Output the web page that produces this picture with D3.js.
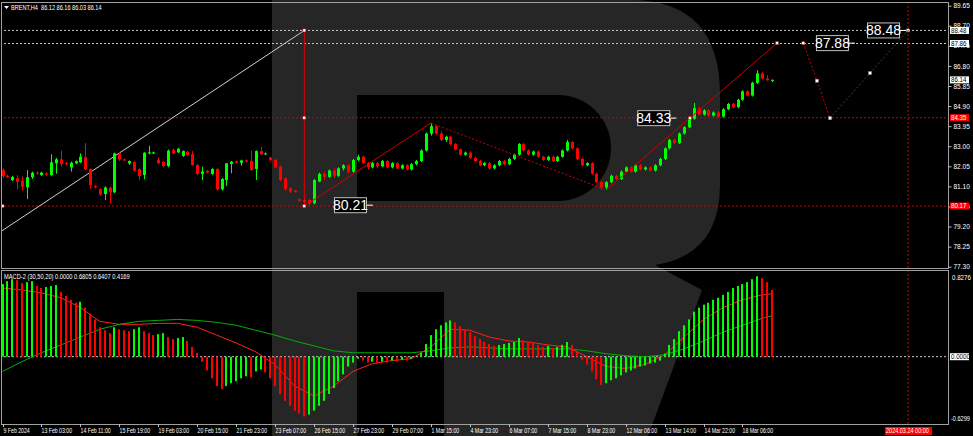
<!DOCTYPE html>
<html><head><meta charset="utf-8">
<script src="https://cdn.jsdelivr.net/npm/d3@7"></script>
<style>html,body{margin:0;padding:0;background:#000;overflow:hidden}text{font-family:"Liberation Sans",Arial,sans-serif}</style>
</head><body><svg id="c" width="973" height="436"></svg>
<script>
// ---------- DATA ----------
const opens = [81.87,81.60,81.40,81.48,81.37,81.06,81.53,81.75,81.64,81.72,81.64,82.19,82.38,82.20,82.00,82.19,82.24,82.48,81.92,81.12,
80.97,80.74,81.04,80.82,82.66,82.38,82.19,82.24,81.91,81.64,82.66,82.66,82.35,82.25,82.06,82.82,82.71,82.54,82.74,82.62,
82.11,81.69,81.83,81.69,81.92,80.96,81.40,82.16,82.29,82.22,82.33,82.31,81.92,82.77,82.62,82.47,82.35,82.03,81.48,81.01,
80.90,80.49,80.45,80.45,80.30,81.33,81.69,81.55,81.85,81.60,81.95,82.10,81.80,82.35,82.50,82.20,82.00,82.20,82.05,82.30,
82.00,82.20,81.95,82.10,81.90,82.15,82.30,82.80,83.60,83.95,83.60,83.30,83.45,83.10,82.85,82.60,82.70,82.45,82.30,82.10,
82.20,81.95,82.10,82.30,82.15,82.40,82.60,83.10,82.80,82.60,82.75,82.50,82.35,82.50,82.30,82.50,82.80,83.20,82.90,82.40,
82.10,82.20,81.70,81.30,81.05,81.30,81.60,81.45,81.80,82.00,81.80,82.10,81.90,82.00,81.85,82.10,82.40,82.90,83.30,83.15,
83.60,83.90,84.30,84.80,84.50,84.70,84.45,84.60,84.40,84.75,85.00,84.85,85.20,85.60,85.40,86.00,86.45,86.20,86.12];
const highs = [81.95,81.65,81.60,81.63,81.56,81.87,81.80,81.80,81.80,81.76,82.62,82.45,82.79,82.25,82.27,82.33,82.66,83.14,81.95,81.15,
81.00,81.10,81.08,82.70,82.72,82.42,82.33,82.30,81.95,82.72,83.02,82.75,82.48,82.30,82.85,82.90,82.92,82.80,82.78,82.77,
82.15,82.03,81.88,81.96,81.96,81.50,82.20,82.30,82.32,82.36,82.37,82.79,82.80,82.98,82.70,82.50,82.40,82.08,81.52,81.05,
80.93,80.52,80.50,80.50,81.45,81.75,81.80,81.90,81.95,82.00,82.15,82.15,82.40,82.60,82.55,82.25,82.25,82.25,82.35,82.35,
82.25,82.25,82.15,82.15,82.20,82.35,82.85,83.65,84.10,84.00,83.70,83.50,83.50,83.15,82.90,82.75,82.75,82.50,82.35,82.25,
82.25,82.15,82.35,82.35,82.45,82.65,83.15,83.15,82.85,82.80,82.80,82.55,82.55,82.55,82.55,82.85,83.30,83.25,82.95,82.45,
82.25,82.25,81.75,81.35,81.35,81.65,81.65,81.85,82.05,82.05,82.15,82.15,82.05,82.05,82.15,82.45,82.95,83.35,83.35,83.65,
83.95,84.35,85.05,84.85,84.75,84.75,84.65,84.65,84.80,85.05,85.05,85.25,85.65,85.65,86.05,86.60,86.50,86.35,86.16];
const lows = [81.50,81.50,81.35,80.97,80.90,80.50,81.45,81.65,81.60,81.60,81.60,81.70,82.03,82.10,81.80,82.15,82.20,81.87,81.00,81.00,
80.65,80.45,80.30,80.78,82.30,82.30,82.12,81.80,81.40,81.43,82.62,82.63,82.15,82.00,82.00,82.62,82.68,82.50,82.54,82.08,
81.64,81.40,81.72,81.65,80.92,80.90,81.12,81.72,82.18,82.08,82.24,81.84,81.40,82.58,82.58,82.30,81.95,81.35,80.90,80.80,
80.80,80.38,80.17,80.20,80.25,81.30,81.40,81.50,81.50,81.55,81.85,81.70,81.75,82.30,82.15,81.90,81.95,81.95,82.00,81.95,
81.95,81.90,81.90,81.85,81.85,82.10,82.25,82.75,83.50,83.55,83.25,83.20,83.05,82.80,82.55,82.55,82.40,82.25,82.05,82.05,
81.90,81.90,82.05,82.10,82.10,82.35,82.55,82.75,82.55,82.55,82.45,82.30,82.30,82.25,82.25,82.45,82.75,82.85,82.35,82.05,
82.05,81.65,81.25,80.95,80.95,81.25,81.40,81.40,81.75,81.75,81.75,81.85,81.85,81.80,81.80,82.05,82.35,82.85,83.10,83.10,
83.55,83.85,84.25,84.45,84.45,84.40,84.40,84.35,84.35,84.70,84.80,84.80,85.15,85.35,85.35,85.95,86.15,86.10,86.03];
const closes = [81.59,81.55,81.54,81.32,81.09,81.53,81.75,81.70,81.75,81.66,82.24,82.38,82.16,82.15,82.22,82.29,82.50,81.91,81.16,81.06,
80.72,81.05,80.82,82.66,82.38,82.33,82.30,81.84,81.59,82.69,82.71,82.71,82.19,82.06,82.79,82.66,82.88,82.77,82.58,82.11,
81.69,81.80,81.75,81.92,80.96,81.45,82.19,82.27,82.22,82.33,82.27,81.87,82.77,82.62,82.66,82.35,81.99,81.40,80.96,80.85,
80.83,80.42,80.37,80.30,81.40,81.69,81.55,81.85,81.60,81.95,82.10,81.80,82.35,82.50,82.20,82.00,82.20,82.05,82.30,82.00,
82.20,81.95,82.10,81.90,82.15,82.30,82.80,83.60,83.95,83.60,83.30,83.45,83.10,82.85,82.60,82.70,82.45,82.30,82.10,82.20,
81.95,82.10,82.30,82.15,82.40,82.60,83.10,82.80,82.60,82.75,82.50,82.35,82.50,82.30,82.50,82.80,83.20,82.90,82.40,82.10,
82.20,81.70,81.30,81.05,81.30,81.60,81.45,81.80,82.00,81.80,82.10,81.90,82.00,81.85,82.10,82.40,82.90,83.30,83.15,83.60,
83.90,84.30,84.80,84.50,84.70,84.45,84.60,84.40,84.75,85.00,84.85,85.20,85.60,85.40,86.00,86.45,86.20,86.12,86.14];

const macdHist = [0.74,0.77,0.79,0.78,0.75,0.76,0.77,0.72,0.70,0.71,0.72,0.73,0.66,0.62,0.58,0.55,0.56,0.50,0.44,0.38,
0.30,0.27,0.24,0.30,0.28,0.27,0.26,0.28,0.30,0.26,0.24,0.22,0.23,0.24,0.20,0.18,0.19,0.20,0.16,0.10,0.04,
-0.05,-0.14,-0.22,-0.30,-0.33,-0.30,-0.27,-0.25,-0.22,-0.20,-0.21,-0.15,-0.13,-0.16,-0.22,-0.30,-0.38,-0.45,-0.50,-0.55,-0.58,-0.61,-0.59,
-0.55,-0.50,-0.45,-0.38,-0.32,-0.25,-0.18,-0.10,-0.06,-0.02,-0.04,-0.06,-0.05,-0.07,-0.05,-0.06,-0.04,-0.05,-0.03,-0.04,-0.02,0.00,0.04,
0.13,0.22,0.28,0.32,0.35,0.37,0.35,0.31,0.28,0.25,0.21,0.18,0.15,0.13,0.11,0.12,0.13,0.14,0.15,0.19,0.17,0.15,0.14,0.12,0.10,0.11,0.09,0.10,0.12,0.15,0.12,
0.05,-0.03,-0.08,-0.15,-0.23,-0.29,-0.27,-0.24,-0.22,-0.19,-0.16,-0.14,-0.12,-0.10,-0.09,-0.07,-0.06,-0.04,
0.03,0.12,0.18,0.26,0.32,0.38,0.46,0.50,0.53,0.55,0.58,0.60,0.63,0.66,0.70,0.72,0.74,0.76,0.79,0.82,0.80,0.76,0.68];
// MACD lines read every 4th bar (plus the last bar)
const lineBars = [0,4,8,12,16,20,24,28,32,36,40,44,48,52,56,60,64,68,72,76,80,84,88,92,96,100,104,108,112,116,120,124,128,132,136,140,144,148,152,156,158];
const macdRed = [0.70,0.68,0.65,0.60,0.50,0.36,0.33,0.33,0.34,0.34,0.30,0.22,0.14,0.05,-0.08,-0.30,-0.40,-0.30,-0.15,-0.07,-0.04,-0.02,0.10,0.28,0.27,0.20,0.16,0.15,0.12,0.10,0.00,-0.10,-0.12,-0.08,0.02,0.20,0.38,0.50,0.58,0.63,0.6407];
const macdGreen = [-0.15,-0.05,0.04,0.12,0.20,0.28,0.33,0.36,0.37,0.38,0.37,0.35,0.32,0.27,0.22,0.16,0.11,0.06,0.04,0.04,0.04,0.04,0.06,0.09,0.10,0.09,0.08,0.08,0.08,0.08,0.06,0.03,0.01,0.00,0.02,0.08,0.16,0.25,0.32,0.39,0.4169];

const priceTicks = [89.65,88.70,87.75,86.80,85.85,84.90,83.95,83.00,82.05,81.10,80.15,79.20,78.25,77.30];
const timeLabels = ["9 Feb 2024","13 Feb 03:00","14 Feb 11:00","15 Feb 19:00","19 Feb 03:00","20 Feb 15:00","21 Feb 23:00","23 Feb 07:00","26 Feb 15:00","27 Feb 23:00","29 Feb 07:00","1 Mar 15:00","4 Mar 23:00","6 Mar 07:00","7 Mar 15:00","8 Mar 23:00","12 Mar 06:00","13 Mar 14:00","14 Mar 22:00","18 Mar 06:00"];
const labelBars = [0,8,16,24,32,40,48,56,64,72,80,88,96,104,112,120,128,136,144,152];
const futureBar = 186, futureLabel = "2024.03.24 00:00";

const greyLevels = [88.48, 87.86];
const redLevels = [84.35, 80.17];
const lastPrice = 86.14;
const trendLine = [[-0.5,78.94],[62,88.48]];
const measureBar = 62, measurePrices = [88.48, 84.35, 80.17];
const wave = [[62,80.17],[88,84.10],[124,80.93],[141.2,84.33],[159.1,87.88],[164.5,87.88],[167.3,86.10],[170,84.33],[178.2,86.46],[186,88.48]];
const waveLabels = [{t:"80.21",bar:76.1,p:80.21},{t:"84.33",bar:138.4,p:84.33},{t:"87.88",bar:175.1,p:87.88},{t:"88.48",bar:185.6,p:88.48}];
const header = "BRENT,H4  86.12 86.16 86.03 86.14";
const macdTitle = "MACD-2 (30,50,20) 0.0000 0.6805 0.6407 0.4169";
const macdTicks = [0.8276, -0.6299];

// ---------- DRAW ----------
const svg = d3.select('#c');
const x = d3.scaleLinear().domain([0,186]).range([2.5,908]);
const y = d3.scaleLinear().domain([77.30,89.65]).range([266.7,5.7]);
const ym = d3.scaleLinear().domain([-0.6299,0.8276]).range([418.5,275.5]);
const FS = 6.5;
const UP='#00ff00', DN='#ff0000';
const ctext=(g,xx,yy,str,sx,fill)=>g.append('text').attr('transform',`translate(${xx},${yy}) scale(${sx},1)`).attr('fill',fill||'#fff').attr('font-size',FS).attr('xml:space','preserve').text(str);

svg.append('rect').attr('width',973).attr('height',436).attr('fill','#000');
// watermark logo
svg.append('path').attr('fill','#262626').attr('fill-rule','evenodd')
  .attr('d','M272,0H630Q720,0 720,95V185Q720,255 655,265L702,290L648,436H444V292H357V436H272Z M357,95H558A53,53 0 0 1 558,201H357Z');

const defs = svg.append('defs');
defs.append('clipPath').attr('id','cm').append('rect').attr('x',1.5).attr('y',2.5).attr('width',947).attr('height',266);
defs.append('clipPath').attr('id','cb').append('rect').attr('x',1.5).attr('y',271).attr('width',947).attr('height',153);

const gm = svg.append('g').attr('clip-path','url(#cm)');
const gb = svg.append('g').attr('clip-path','url(#cb)');

// level lines
greyLevels.forEach(p=>gm.append('line').attr('x1',0).attr('x2',948).attr('y1',y(p)).attr('y2',y(p)).attr('stroke','#c8c8c8').attr('stroke-dasharray','2,2'));
redLevels.forEach(p=>gm.append('line').attr('x1',0).attr('x2',948).attr('y1',y(p)).attr('y2',y(p)).attr('stroke','#d00000').attr('stroke-dasharray','2,2'));
// future vertical
svg.append('line').attr('x1',x(futureBar)).attr('x2',x(futureBar)).attr('y1',2).attr('y2',424).attr('stroke','#d00000').attr('stroke-dasharray','2,2');

// trend line
gm.append('line').attr('x1',x(trendLine[0][0])).attr('y1',y(trendLine[0][1])).attr('x2',x(trendLine[1][0])).attr('y2',y(trendLine[1][1])).attr('stroke','#cfcfcf').attr('stroke-width',1);
// measure line
gm.append('line').attr('x1',x(measureBar)).attr('x2',x(measureBar)).attr('y1',y(measurePrices[0])).attr('y2',y(measurePrices[2])).attr('stroke','#e00000');

// candles
const idx = d3.range(closes.length);
const cg = gm.append('g');
cg.selectAll('line.w').data(idx).join('line')
  .attr('x1',i=>Math.round(x(i))+0.5).attr('x2',i=>Math.round(x(i))+0.5)
  .attr('y1',i=>y(highs[i])).attr('y2',i=>y(lows[i]))
  .attr('stroke',i=>closes[i]>=opens[i]?UP:DN);
cg.selectAll('rect.b').data(idx).join('rect')
  .attr('x',i=>Math.round(x(i))-1).attr('width',3)
  .attr('y',i=>y(Math.max(opens[i],closes[i])))
  .attr('height',i=>Math.max(1,Math.abs(y(opens[i])-y(closes[i]))))
  .attr('fill',i=>closes[i]>=opens[i]?UP:DN);

// wave forecast
const seg = (a,b,col,dash)=>{const l=gm.append('line').attr('x1',x(wave[a][0])).attr('y1',y(wave[a][1])).attr('x2',x(wave[b][0])).attr('y2',y(wave[b][1])).attr('stroke',col); if(dash) l.attr('stroke-dasharray',dash);};
seg(0,1,'#d00000'); seg(1,2,'#d00000','2,2'); seg(2,3,'#d00000'); seg(3,4,'#d00000');
seg(5,6,'#d00000','2,2'); seg(6,7,'#d00000','2,2');
seg(7,8,'#2e4a2e','2,2'); seg(8,9,'#2e4a2e','2,2');
// markers
const markers = [[0,measurePrices[2]],[measureBar,measurePrices[0]],[measureBar,measurePrices[1]],[measureBar,measurePrices[2]]];
markers.forEach(m=>gm.append('rect').attr('x',x(m[0])-1.5).attr('y',y(m[1])-1.5).attr('width',3).attr('height',3).attr('fill','#fff').attr('stroke','#d00000').attr('stroke-width',0.5));
[3,4,5,6,7,8,9].forEach(k=>gm.append('rect').attr('x',x(wave[k][0])-1.5).attr('y',y(wave[k][1])-1.5).attr('width',3).attr('height',3).attr('fill','#fff').attr('stroke',k<6?'#d00000':'#888').attr('stroke-width',0.5));

// wave labels
waveLabels.forEach(d=>{
  const ax=x(d.bar), ay=y(d.p);
  gm.append('line').attr('x1',ax-6).attr('x2',ax).attr('y1',ay).attr('y2',ay).attr('stroke','#fff');
  gm.append('rect').attr('x',ax-38.5).attr('y',ay-7.5).attr('width',32).attr('height',15).attr('fill','#000').attr('stroke','#c0c0c0');
  gm.append('text').attr('x',ax-22.5).attr('y',ay+5).attr('text-anchor','middle').attr('fill','#fff').attr('font-size',14).text(d.t);
});

// MACD
gb.append('line').attr('x1',0).attr('x2',948).attr('y1',ym(0)).attr('y2',ym(0)).attr('stroke','#c8c8c8').attr('stroke-dasharray','2,2');
const ln = d3.line().x(d=>x(d[0])).y(d=>ym(d[1]));
gb.append('path').attr('d',ln(lineBars.map((b,k)=>[b,macdRed[k]]))).attr('fill','none').attr('stroke','#ff2020');
gb.append('path').attr('d',ln(lineBars.map((b,k)=>[b,macdGreen[k]]))).attr('fill','none').attr('stroke','#00b000');
gb.selectAll('rect.h').data(macdHist).join('rect')
  .attr('x',(d,i)=>Math.round(x(i))-1).attr('width',2)
  .attr('y',d=>Math.min(ym(d),ym(0))).attr('height',d=>Math.abs(ym(d)-ym(0)))
  .attr('fill',(d,i)=>(i===0||d>=macdHist[i-1])?UP:DN);

// frames
svg.append('rect').attr('x',1.5).attr('y',2.5).attr('width',947).attr('height',266).attr('fill','none').attr('stroke','#a0a0a0');
svg.append('rect').attr('x',1.5).attr('y',270.5).attr('width',947).attr('height',154).attr('fill','none').attr('stroke','#a0a0a0');

// price axis
const ax = svg.append('g').attr('transform','translate(948.5,0)').call(d3.axisRight(y).tickValues(priceTicks).tickSize(3).tickFormat(d3.format('.2f')));
ax.select('.domain').remove();
ax.selectAll('line').attr('stroke','#c0c0c0');
ax.selectAll('text').attr('fill','#fff').attr('font-size',FS).attr('x',5).attr('font-family','Liberation Sans');

// price tags
const tag=(yy,bg,fg,txt)=>{svg.append('rect').attr('x',950).attr('y',yy-3.5).attr('width',19).attr('height',7).attr('fill',bg);
  ctext(svg,951,yy+2.3,txt,0.95,fg);};
greyLevels.forEach(p=>tag(y(p),'#fff','#000',d3.format('.2f')(p)));
tag(y(lastPrice),'#fff','#000',d3.format('.2f')(lastPrice));
redLevels.forEach(p=>tag(y(p),'#ff0000','#fff',d3.format('.2f')(p)));
// macd axis
ctext(svg,952,ym(macdTicks[0])+4,macdTicks[0].toFixed(4),0.95);
ctext(svg,951,ym(macdTicks[1])+2,macdTicks[1].toFixed(4),0.86);
tag(ym(0),'#fff','#000','0.0000');

// time axis
labelBars.forEach((b,k)=>{
  const xx=Math.round(x(b))+0.5;
  svg.append('line').attr('x1',xx).attr('x2',xx).attr('y1',424).attr('y2',427).attr('stroke','#c0c0c0');
  ctext(svg,xx,433,timeLabels[k],0.8);
});
svg.append('rect').attr('x',x(futureBar)-23).attr('y',427).attr('width',47).attr('height',8).attr('fill','#ff0000');
ctext(svg,x(futureBar)-22,433.3,futureLabel,0.85);

// titles
svg.append('path').attr('d','M4,6H9L6.5,9Z').attr('fill','#fff');
ctext(svg,11,10,header,0.86);
ctext(svg,4,279,macdTitle,0.88);
</script></body></html>
